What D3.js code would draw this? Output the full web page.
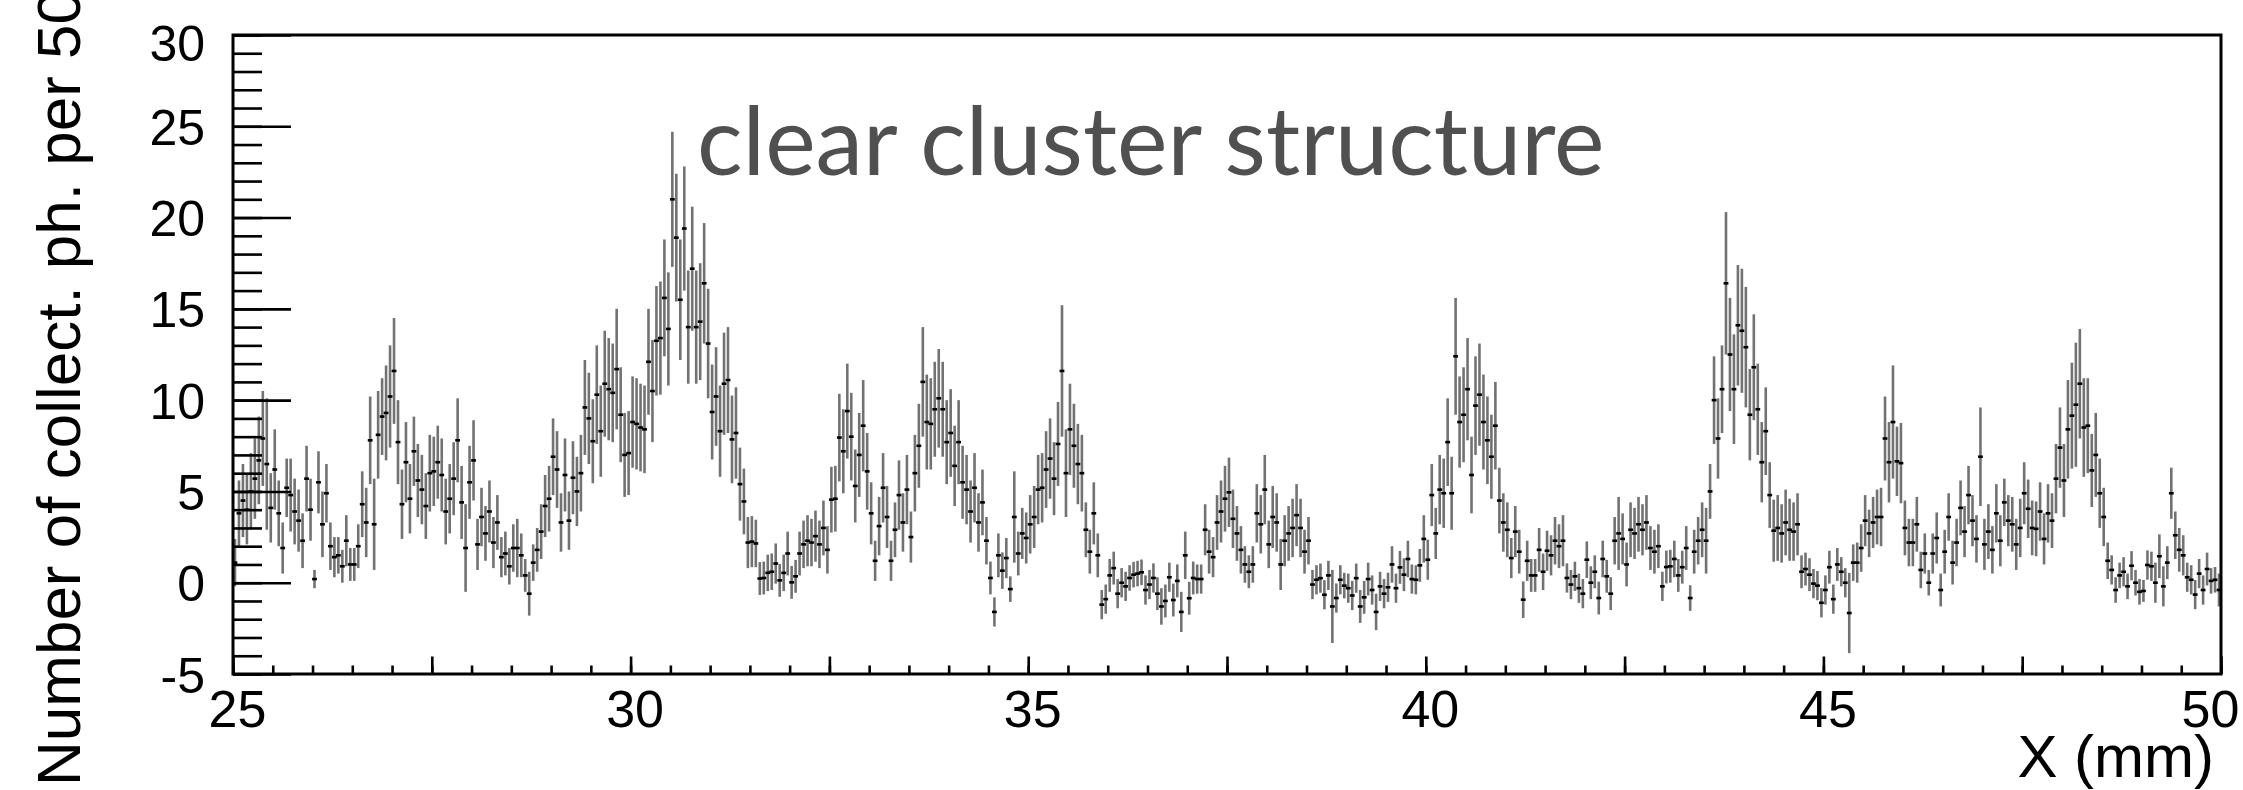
<!DOCTYPE html>
<html>
<head>
<meta charset="utf-8">
<script src="https://cdn.jsdelivr.net/npm/d3@7"></script>
<style>
  html, body { margin: 0; padding: 0; background: #fff; }
  svg { display: block; }
</style>
</head>
<body>
<script>
"use strict";

// binning: 50 um bins from 25 to 50 mm
const xRange = [25, 50];
const yRange = [-5, 30];
const binWidth = 0.05;

// collected photons per bin, one row per mm (25-26, 26-27, ...)
const counts = [
  1.1, 3.8, 4.5, 4.0, 5.0, 5.7, 6.7, 7.9, 6.5, 4.1, 6.2, 3.8, 1.9, 5.2, 4.8, 3.9, 3.4, 2.3, 5.7, 4.0,
  0.2, 5.5, 3.2, 4.9, 2.0, 1.4, 1.5, 0.9, 2.3, 1.0, 1.0, 2.0, 4.3, 3.3, 7.8, 3.2, 8.1, 9.1, 9.3, 10.2,
  11.6, 7.7, 4.3, 6.6, 4.6, 7.2, 5.6, 5.1, 4.2, 6.0, 6.1, 6.6, 5.9, 3.9, 4.6, 5.7, 7.8, 4.4, 1.9, 5.5,
  6.7, 2.1, 3.6, 2.7, 3.9, 2.2, 3.3, 1.4, 1.6, 0.9, 1.9, 1.9, 1.5, 0.4, -0.6, 1.1, 1.8, 2.8, 4.2, 4.6,
  6.9, 6.2, 3.3, 5.9, 3.4, 5.75, 5.0, 6.0, 9.6, 9.0, 7.75, 10.3, 8.3, 10.9, 10.6, 10.4, 11.7, 9.2, 7.0, 7.1,
  8.8, 8.7, 8.5, 8.4, 12.1, 10.5, 13.25, 13.4, 15.6, 13.9, 21.0, 18.9, 15.5, 19.4, 14.0, 17.2, 14.0, 14.3, 16.4, 13.1,
  9.35, 10.2, 8.3, 10.9, 11.1, 7.85, 8.2, 5.4, 4.45, 2.2, 2.25, 2.15, 0.23, 0.26, 0.54, 0.6, 1.05, 0.13, 0.54, 1.6,
  0.02, 0.35, 1.6, 2.1, 2.3, 2.2, 2.55, 2.1, 3.0, 1.8, 4.55, 4.6, 7.95, 7.2, 9.4, 8.0, 5.3, 7.0, 8.6, 6.1,
  3.8, 1.2, 3.1, 5.2, 3.6, 1.2, 2.9, 4.8, 3.3, 5.1, 2.5, 6.0, 7.5, 11.0, 8.8, 8.7, 9.5, 10.1, 9.5, 7.7,
  8.2, 6.4, 7.7, 5.5, 5.1, 3.9, 5.2, 3.3, 4.4, 2.3, 0.26, -1.6, 1.5, 0.66, 1.35, -0.35, 3.6, 1.6, 2.7, 2.45,
  3.2, 3.6, 5.1, 5.2, 6.2, 6.8, 5.7, 7.6, 11.6, 6.0, 8.4, 7.5, 6.5, 6.0, 2.9, 1.7, 3.8, 1.5, -1.2, -0.9,
  0.4, 0.8, -0.6, 0.0, -0.2, 0.26, 0.44, 0.5, 0.57, -0.4, -0.1, 0.26, -0.6, -1.3, -1.0, 0.3, -0.95, 0.1, -1.6, 1.5,
  -0.85, 0.26, 0.2, 0.2, 2.9, 1.7, 1.4, 3.3, 3.9, 4.6, 4.95, 3.5, 2.7, 1.8, 1.0, 0.6, 1.0, 3.8, 3.2, 5.1,
  2.1, 3.6, 3.3, 1.0, 2.3, 2.7, 3.0, 3.7, 3.0, 1.7, 2.3, -0.1, 0.16, 0.25, -0.66, 0.4, -1.3, -0.84, 0.16, -0.16,
  -0.3, -0.7, 0.25, -1.3, -0.8, 0.2, -0.4, -1.6, -0.2, -0.6, -0.25, 1.0, -0.3, 0.84, 0.44, 1.3, 0.2, 0.16, 0.95, 2.4,
  1.26, 4.8, 2.7, 5.1, 4.9, 7.7, 4.9, 12.4, 8.8, 9.2, 10.6, 5.9, 9.7, 10.3, 8.8, 7.8, 6.9, 8.6, 4.5, 3.3,
  2.9, 1.35, 2.8, 1.7, -0.93, 1.2, 0.4, 0.4, 1.8, 0.6, 1.75, 1.5, 2.3, 2.0, 2.3, 0.26, -0.1, 0.35, -0.3, -0.6,
  1.26, 0.0, 0.6, -0.84, 1.3, 0.35, -0.6, 2.3, 2.7, 2.4, 1.0, 2.9, 2.7, 3.2, 2.9, 3.3, 1.9, 1.7, 2.0, -0.2,
  0.86, 0.9, 1.3, 0.4, 0.85, 1.9, -0.84, 1.7, 2.3, 2.9, 2.3, 5.0, 10.0, 7.9, 10.6, 16.4, 12.5, 10.6, 14.1, 13.8,
  12.9, 9.2, 11.8, 9.5, 6.6, 8.3, 4.8, 2.85, 3.0, 2.7, 3.3, 2.9, 2.8, 3.2, 0.6, 0.75, 0.44, -0.05, -0.16, -1.1,
  -0.4, 0.85, -0.9, 1.0, 0.6, 0.0, -1.66, 1.1, 1.1, 1.9, 3.4, 2.7, 3.3, 3.6, 3.6, 7.9, 6.6, 8.8, 6.65, 6.55,
  3.0, 2.2, 2.2, 3.2, 0.7, 1.6, 0.0, 1.6, 2.45, -0.4, 1.7, 3.6, 1.1, 2.2, 4.1, 2.8, 4.8, 3.4, 2.4, 6.9,
  2.1, 2.8, 1.8, 3.8, 2.3, 4.4, 3.4, 3.2, 2.1, 3.0, 4.9, 4.05, 3.0, 2.95, 3.9, 2.4, 3.8, 3.4, 5.7, 7.4,
  5.6, 8.4, 9.15, 9.75, 10.9, 8.5, 8.6, 6.15, 7.0, 4.9, 3.6, 1.2, 0.7, -0.4, 0.4, 0.6, -0.2, 0.93, 0.0, -0.5,
  -0.45, 0.97, 0.9, 0.0, 1.45, -0.2, 1.1, 4.9, 2.6, 1.8, 1.5, 0.3, 0.16, -0.65, 0.5, -0.4, 0.75, 0.1, 0.16, -0.4
];

// half length of the error bar for each bin, same layout
const errors = [
  1.3, 1.8, 2.0, 1.9, 2.1, 2.2, 2.4, 2.6, 3.6, 1.9, 2.2, 1.8, 1.4, 1.6, 2.0, 1.8, 1.7, 1.5, 1.8, 1.7,
  0.5, 1.7, 1.8, 1.6, 1.3, 1.1, 1.0, 0.9, 1.4, 0.9, 0.9, 1.2, 1.8, 1.9, 2.4, 2.5, 2.4, 2.1, 2.6, 2.8,
  2.9, 2.3, 1.9, 2.2, 1.9, 1.9, 2.0, 1.9, 1.8, 2.1, 1.9, 2.0, 2.0, 1.8, 1.9, 2.0, 2.3, 2.0, 2.4, 2.0,
  2.2, 1.4, 1.6, 1.5, 1.7, 1.4, 1.5, 1.1, 1.2, 1.0, 1.3, 1.6, 1.2, 0.9, 1.2, 1.0, 1.2, 1.5, 1.7, 1.8,
  2.1, 2.1, 1.6, 2.0, 1.6, 2.0, 1.9, 2.1, 2.6, 2.5, 2.3, 2.7, 2.5, 2.9, 2.8, 2.7, 3.3, 2.6, 2.3, 2.3,
  2.5, 2.5, 2.4, 2.4, 2.9, 2.8, 3.0, 3.1, 3.2, 3.1, 3.7, 3.5, 3.3, 3.4, 3.1, 3.4, 3.1, 3.2, 3.3, 3.0,
  2.6, 2.7, 2.5, 2.8, 2.9, 2.4, 2.5, 2.0, 1.8, 1.4, 1.4, 1.3, 0.9, 0.9, 1.0, 1.0, 1.1, 0.9, 1.0, 1.2,
  0.9, 0.9, 1.2, 1.3, 1.4, 1.3, 1.4, 1.3, 1.5, 1.3, 1.8, 1.8, 2.4, 2.3, 2.6, 2.4, 2.0, 2.3, 2.5, 2.1,
  1.7, 1.1, 1.6, 1.9, 1.7, 1.1, 1.5, 1.9, 1.6, 1.9, 1.4, 2.1, 2.3, 3.0, 2.6, 2.5, 2.6, 2.7, 2.6, 2.3,
  2.4, 2.2, 2.3, 2.0, 1.9, 1.7, 1.9, 1.6, 1.8, 1.3, 0.9, 0.8, 1.2, 1.0, 1.1, 0.7, 2.5, 1.2, 1.4, 1.4,
  1.6, 1.7, 1.9, 1.9, 2.1, 2.2, 2.0, 2.3, 3.6, 2.4, 2.5, 2.3, 2.2, 2.1, 1.5, 1.2, 1.7, 1.2, 0.8, 0.8,
  0.9, 0.9, 0.8, 0.8, 0.8, 0.7, 0.7, 0.7, 0.7, 0.8, 0.8, 0.8, 0.9, 1.0, 0.9, 0.8, 0.9, 0.9, 1.1, 1.3,
  0.9, 0.9, 0.8, 0.8, 1.4, 1.2, 1.1, 1.5, 1.7, 1.8, 1.9, 1.6, 1.5, 1.3, 1.0, 0.9, 1.0, 1.6, 1.6, 1.9,
  1.3, 1.7, 1.6, 1.4, 1.4, 1.5, 1.6, 1.7, 1.6, 1.2, 1.3, 0.8, 0.8, 0.8, 0.8, 0.8, 2.0, 0.8, 0.8, 0.7,
  0.8, 0.8, 0.8, 0.9, 0.9, 0.9, 0.8, 1.0, 0.8, 0.8, 0.8, 1.0, 0.8, 0.9, 0.9, 1.0, 0.8, 0.8, 0.9, 1.3,
  1.1, 1.7, 1.4, 1.9, 1.9, 2.4, 2.0, 3.2, 2.5, 2.6, 2.8, 2.1, 2.7, 2.8, 2.6, 2.4, 2.3, 2.4, 1.8, 1.6,
  1.5, 1.1, 1.4, 1.2, 1.0, 1.1, 0.9, 0.9, 1.2, 1.0, 1.1, 1.1, 1.3, 1.2, 1.4, 0.8, 0.8, 0.8, 0.8, 0.8,
  1.0, 0.9, 0.9, 0.9, 1.0, 0.9, 0.9, 1.3, 2.0, 1.4, 1.2, 1.5, 1.4, 1.5, 1.4, 1.5, 1.2, 1.2, 1.2, 0.8,
  0.9, 0.9, 1.0, 0.9, 0.9, 1.2, 0.7, 1.2, 1.3, 1.5, 1.8, 1.5, 2.4, 2.2, 2.4, 3.9, 3.1, 3.0, 3.3, 3.4,
  3.3, 2.5, 2.9, 2.5, 2.2, 2.4, 1.8, 1.7, 1.8, 1.6, 1.8, 1.7, 1.6, 1.7, 0.9, 0.9, 0.9, 0.8, 0.8, 0.8,
  0.8, 0.9, 0.8, 0.9, 0.8, 0.8, 2.2, 1.0, 1.1, 1.3, 1.4, 1.3, 1.4, 1.5, 1.6, 2.3, 2.2, 3.1, 1.9, 2.2,
  1.5, 1.3, 1.3, 1.5, 1.0, 1.1, 0.7, 1.1, 1.4, 0.9, 1.2, 1.3, 1.2, 1.3, 1.5, 1.4, 1.6, 1.4, 1.3, 2.7,
  1.4, 1.5, 1.3, 1.6, 1.4, 1.3, 1.4, 1.5, 1.4, 1.6, 1.7, 1.6, 1.5, 1.5, 1.6, 1.4, 1.6, 1.5, 1.9, 2.2,
  2.0, 2.7, 2.9, 3.4, 3.0, 2.7, 2.6, 2.0, 2.3, 1.9, 1.6, 1.0, 0.8, 0.7, 0.7, 0.8, 0.7, 0.8, 0.7, 0.7,
  0.6, 0.8, 0.8, 1.1, 1.2, 1.1, 0.9, 1.4, 1.3, 1.2, 1.1, 0.8, 0.8, 0.8, 0.8, 0.8, 0.9, 0.7, 0.7, 0.9
];

const xLabels = [25, 30, 35, 40, 45, 50];
const xMid = [27.5, 32.5, 37.5, 42.5, 47.5];
const yLabels = [-5, 0, 5, 10, 15, 20, 25, 30];
const xTitle = "X (mm)";
const yTitle = "Number of collect. ph. per 50 \u03bcm";
const note = "clear cluster structure";

// layout
const W = 2243, H = 790;
const margin = { top: 35, left: 233, bottom: 116, right: 22 };
const font = "'Liberation Sans', Arial, Helvetica, sans-serif";

const svg = d3.select("body").append("svg")
    .attr("width", W)
    .attr("height", H)
    .style("background", "#fff");

const x = d3.scaleLinear().domain(xRange).range([margin.left, W - margin.right]);
const y = d3.scaleLinear().domain(yRange).range([H - margin.bottom, margin.top]);

const bins = counts.map((v, i) => ({
    lo: xRange[0] + i * binWidth,
    hi: xRange[0] + (i + 1) * binWidth,
    v: v,
    e: errors[i]
}));

// error bars
const marks = svg.append("g");
marks.selectAll("line")
    .data(bins)
    .enter()
    .append("line")
    .attr("x1", d => x((d.lo + d.hi) / 2))
    .attr("x2", d => x((d.lo + d.hi) / 2))
    .attr("y1", d => y(d.v - d.e))
    .attr("y2", d => y(d.v + d.e))
    .attr("stroke", "#727272")
    .attr("stroke-width", 2.6);

marks.selectAll("rect")
    .data(bins)
    .enter()
    .append("rect")
    .attr("x", d => x((d.lo + d.hi) / 2) - 2.4)
    .attr("y", d => y(d.v) - 1.3)
    .attr("width", 4.8)
    .attr("height", 2.6)
    .attr("fill", "#000");

// axes, ROOT style with ticks pointing inside
const xBase = H - margin.bottom;
const num = d => String(d);
const styleAxis = (g, size) => {
    g.attr("font-family", font).attr("font-size", size);
    g.select(".domain").remove();
    g.selectAll("line").attr("stroke-width", 2.6);
};

svg.append("g")
    .attr("transform", `translate(0,${xBase})`)
    .call(d3.axisBottom(x).tickValues(d3.range(25, 50.01, 0.5)).tickSize(-8.5).tickFormat(""))
    .call(g => styleAxis(g, 52));

svg.append("g")
    .attr("transform", `translate(0,${xBase})`)
    .call(d3.axisBottom(x).tickValues(xMid).tickSize(-17.5).tickFormat(""))
    .call(g => styleAxis(g, 52));

svg.append("g")
    .attr("transform", `translate(0,${xBase})`)
    .call(d3.axisBottom(x).tickValues(xLabels).tickSize(-17.5).tickPadding(16).tickFormat(num))
    .call(g => styleAxis(g, 52))
    .call(g => g.selectAll("text").attr("dx", d => d === xRange[1] ? -11 : 4));

svg.append("g")
    .attr("transform", `translate(${margin.left},0)`)
    .call(d3.axisLeft(y).tickValues(d3.range(-5, 30.01, 1)).tickSize(-29).tickFormat(""))
    .call(g => styleAxis(g, 50));

svg.append("g")
    .attr("transform", `translate(${margin.left},0)`)
    .call(d3.axisLeft(y).tickValues(yLabels).tickSize(-58).tickPadding(28).tickFormat(num))
    .call(g => styleAxis(g, 50))
    .call(g => g.selectAll("text").attr("dy", d => d === yRange[1] ? "0.5em" : "0.36em"));

// frame
svg.append("rect")
    .attr("x", margin.left)
    .attr("y", margin.top)
    .attr("width", W - margin.left - margin.right)
    .attr("height", H - margin.top - margin.bottom)
    .attr("fill", "none")
    .attr("stroke", "#000")
    .attr("stroke-width", 3);

// titles
svg.append("text")
    .attr("x", 2214)
    .attr("y", 777)
    .attr("text-anchor", "end")
    .attr("font-family", font)
    .attr("font-size", 60)
    .text(xTitle);

svg.append("text")
    .attr("transform", "translate(80,786) rotate(-90)")
    .attr("font-family", font)
    .attr("font-size", 62)
    .text(yTitle);

svg.append("text")
    .attr("x", 697)
    .attr("y", 175)
    .attr("font-family", "Lato, 'Open Sans', sans-serif")
    .attr("font-size", 95.5)
    .attr("fill", "#505050")
    .text(note);
</script>
</body>
</html>
